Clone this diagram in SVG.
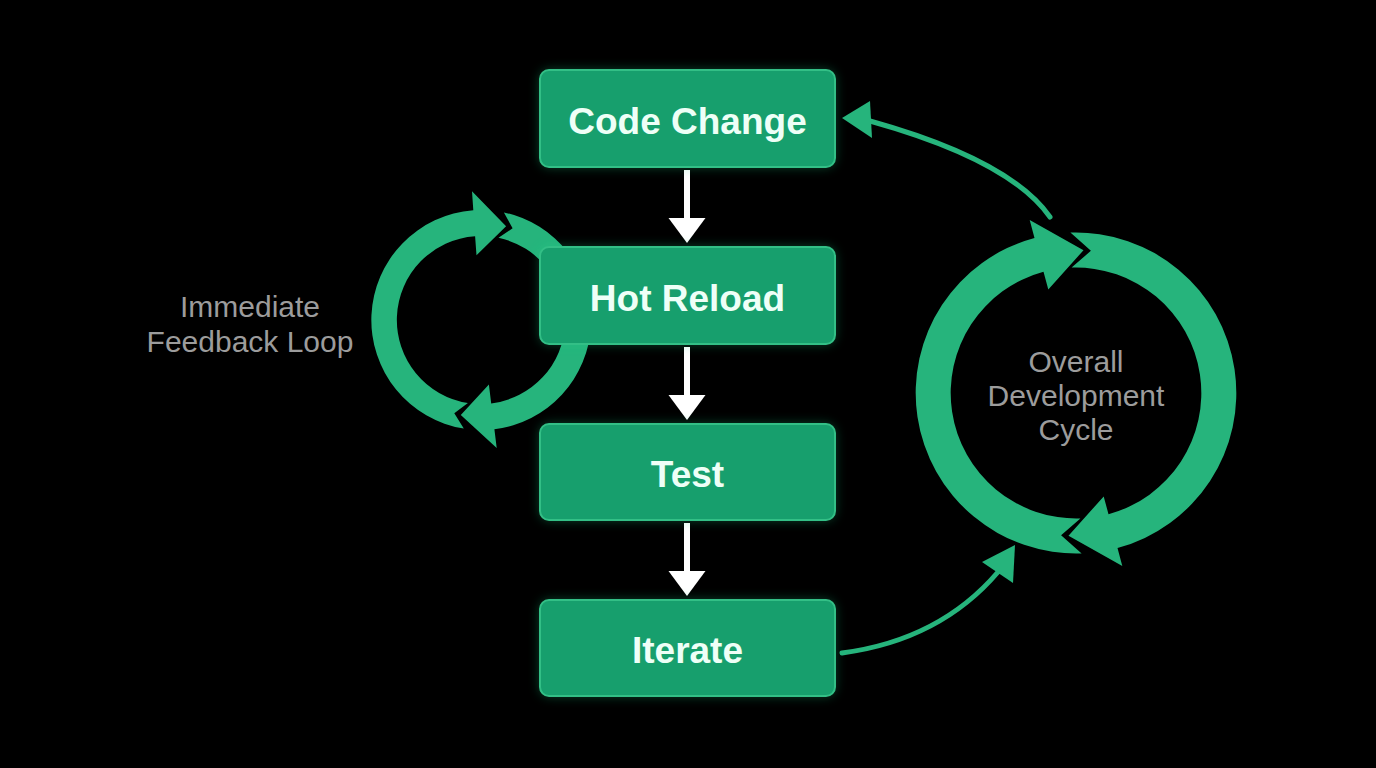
<svg xmlns="http://www.w3.org/2000/svg" width="1376" height="768" viewBox="0 0 1376 768">
  <defs>
    <filter id="glow" x="-20%" y="-30%" width="140%" height="160%">
      <feGaussianBlur stdDeviation="6"/>
    </filter>
    <style>
      .ring { fill: #26b47c; }
      .conn { fill: none; stroke: #26b47c; stroke-width: 5; stroke-linecap: round; }
      .connhead { fill: #26b47c; }
      .flow { stroke: #ffffff; stroke-width: 6; }
      .flowhead { fill: #ffffff; }
      .box { fill: #179f6d; stroke: #33bf86; stroke-width: 2; }
      .halo { fill: #1ed98c; opacity: 0.35; filter: url(#glow); }
      .btxt { font-family: "Liberation Sans", Arial, sans-serif; font-weight: bold; font-size: 37px; fill: #eefff7; text-anchor: middle; }
      .lbl { font-family: "Liberation Sans", Arial, sans-serif; font-size: 30px; fill: #9c9c9c; text-anchor: middle; }
    </style>
  </defs>
  <rect width="1376" height="768" fill="#000000"/>

  <g id="feedback-loop">
    <path class="ring" d="M463.8,428.6 A110,110 0 0 1 473.3,210.3 L472.0,191.3 L506.1,226.3 L476.5,255.2 L475.1,236.2 A84,84 0 0 0 467.9,403.0 L454.3,413.2 Z"/>
    <path class="ring" d="M503.9,212.4 A110,110 0 0 1 494.4,429.2 L496.7,448.0 L460.8,414.9 L488.9,384.5 L491.2,403.4 A84,84 0 0 0 498.5,237.8 L512.6,228.3 Z"/>
    <text class="lbl" x="250" y="317">Immediate</text>
    <text class="lbl" x="250" y="352">Feedback Loop</text>
  </g>

  <g id="development-cycle">
    <path class="ring" d="M1081.6,553.4 A160.5,160.5 0 0 1 1034.5,238.0 L1029.7,220.1 L1083.5,250.2 L1048.3,289.6 L1043.5,271.8 A125.5,125.5 0 0 0 1080.4,518.4 L1061.1,535.2 Z"/>
    <path class="ring" d="M1070.4,232.6 A160.5,160.5 0 0 1 1117.5,548.0 L1122.3,565.9 L1068.5,535.8 L1103.7,496.4 L1108.5,514.2 A125.5,125.5 0 0 0 1071.6,267.6 L1090.9,250.8 Z"/>
    <text class="lbl" x="1076" y="372">Overall</text>
    <text class="lbl" x="1076" y="406">Development</text>
    <text class="lbl" x="1076" y="440">Cycle</text>
  </g>

  <g id="connectors">
    <line class="flow" x1="687" y1="170" x2="687" y2="220"/>
    <polygon class="flowhead" points="668.5,218 705.5,218 687,243"/>
    <line class="flow" x1="687" y1="347" x2="687" y2="397"/>
    <polygon class="flowhead" points="668.5,395 705.5,395 687,420"/>
    <line class="flow" x1="687" y1="523" x2="687" y2="573"/>
    <polygon class="flowhead" points="668.5,571 705.5,571 687,596"/>
    <path class="conn" d="M1050,217 Q1010,160 870,121"/>
    <polygon class="connhead" points="842,118 870,101 872,138"/>
    <path class="conn" d="M842,653 Q940,640 998,572"/>
    <polygon class="connhead" points="1015,545 982,562 1013,583"/>
  </g>

  <g id="node-code-change">
    <rect class="halo" x="540" y="70" width="295" height="97" rx="9"/>
    <rect class="box" x="540" y="70" width="295" height="97" rx="9"/>
    <text class="btxt" x="687.5" y="134">Code Change</text>
  </g>
  <g id="node-hot-reload">
    <rect class="halo" x="540" y="247" width="295" height="97" rx="9"/>
    <rect class="box" x="540" y="247" width="295" height="97" rx="9"/>
    <text class="btxt" x="687.5" y="311">Hot Reload</text>
  </g>
  <g id="node-test">
    <rect class="halo" x="540" y="424" width="295" height="96" rx="9"/>
    <rect class="box" x="540" y="424" width="295" height="96" rx="9"/>
    <text class="btxt" x="687.5" y="487">Test</text>
  </g>
  <g id="node-iterate">
    <rect class="halo" x="540" y="600" width="295" height="96" rx="9"/>
    <rect class="box" x="540" y="600" width="295" height="96" rx="9"/>
    <text class="btxt" x="687.5" y="663">Iterate</text>
  </g>
</svg>
